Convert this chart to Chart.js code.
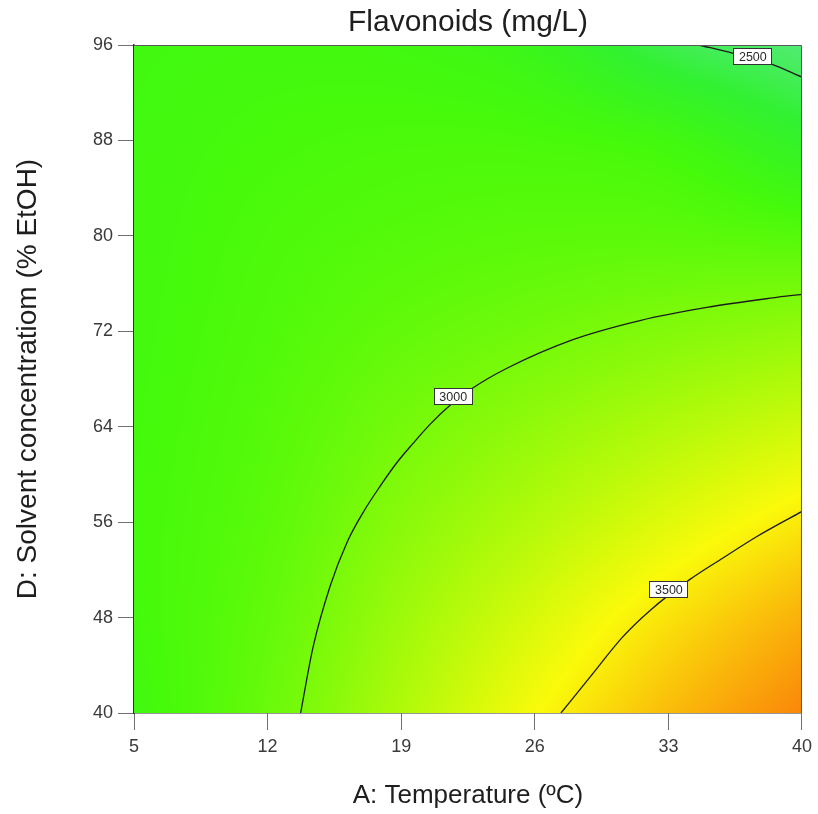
<!DOCTYPE html>
<html>
<head>
<meta charset="utf-8">
<style>
  html, body { margin: 0; padding: 0; background: #ffffff; }
  #wrap { width: 818px; height: 814px; }
</style>
<script src="https://cdn.jsdelivr.net/npm/chart.js@4/dist/chart.umd.min.js"></script>
</head>
<body>
<div id="wrap"><canvas id="c" width="818" height="814"></canvas></div>
<script>
// Axis ticks
const tempTicks = [5, 12, 19, 26, 33, 40];                  // A: Temperature (ºC)
const solventTicks = [40, 48, 56, 64, 72, 80, 88, 96];      // D: Solvent concentration (% EtOH)

// Predicted flavonoids (mg/L); one row per solvent level (40 → 96), one column per temperature
const flavonoidGrid = [
  [2780, 2940, 3190, 3450, 3680, 3870],  // 40
  [2800, 2915, 3125, 3335, 3540, 3720],  // 48
  [2805, 2890, 3050, 3205, 3365, 3520],  // 56
  [2800, 2870, 2980, 3085, 3195, 3300],  // 64
  [2795, 2850, 2915, 2970, 3030, 3085],  // 72
  [2790, 2835, 2865, 2885, 2890, 2865],  // 80
  [2785, 2815, 2830, 2825, 2780, 2645],  // 88
  [2780, 2790, 2780, 2720, 2530, 2420]   // 96
];

// Contour lines (temperature, solvent)
const contour2500 = [
  {x: 34.6, y: 96.0}, {x: 36.4, y: 95.3}, {x: 38.4, y: 94.4}, {x: 40.0, y: 93.3}
];
const contour3000 = [
  {x: 13.73, y: 40.0}, {x: 14.38, y: 45.5}, {x: 15.27, y: 50.6}, {x: 16.16, y: 54.3},
  {x: 17.00, y: 56.8}, {x: 17.89, y: 59.0}, {x: 18.78, y: 61.0}, {x: 19.62, y: 62.6},
  {x: 20.51, y: 64.2}, {x: 21.56, y: 65.8}, {x: 22.71, y: 67.2}, {x: 24.54, y: 68.9},
  {x: 28.00, y: 71.3}, {x: 31.51, y: 72.9}, {x: 35.02, y: 74.0}, {x: 38.48, y: 74.8},
  {x: 40.00, y: 75.1}
];
const contour3500 = [
  {x: 27.37, y: 40.0}, {x: 28.89, y: 43.0}, {x: 30.62, y: 46.4}, {x: 32.04, y: 48.6},
  {x: 34.13, y: 51.2}, {x: 35.86, y: 53.0}, {x: 37.64, y: 54.8}, {x: 40.00, y: 56.9}
];
const contourLabels = [
  {text: '2500', x: 37.4, y: 95.1},
  {text: '3000', x: 21.7, y: 66.6},
  {text: '3500', x: 33.0, y: 50.4}
];

const chartTitle = 'Flavonoids (mg/L)';
const FONT = "'Liberation Sans', Arial, Helvetica, sans-serif";

// Colour ramp: cyan-green (low) → green → yellow → orange (high)
function hslToRgb(h, s, l) {
  s /= 100; l /= 100;
  const k = n => (n + h / 30) % 12;
  const a = s * Math.min(l, 1 - l);
  const f = n => l - a * Math.max(-1, Math.min(k(n) - 3, Math.min(9 - k(n), 1)));
  return [Math.round(f(0) * 255), Math.round(f(8) * 255), Math.round(f(4) * 255)];
}
function rampColour(v) {
  let h = 120 - (v - 2600) * 0.07;
  h = Math.max(20, Math.min(140, h));
  const cool = Math.max(0, h - 105);
  const l = 51 + cool * 0.4;
  const s = 96 - cool * 0.6;
  return hslToRgb(h, s, l);
}

// Catmull-Rom sampling of the grid
function cr(p0, p1, p2, p3, t) {
  return 0.5 * ((2 * p1) + (-p0 + p2) * t + (2 * p0 - 5 * p1 + 4 * p2 - p3) * t * t +
    (-p0 + 3 * p1 - 3 * p2 + p3) * t * t * t);
}
function gridAt(r, c) {
  const rows = flavonoidGrid.length, cols = flavonoidGrid[0].length;
  if (r < 0) return 2 * gridAt(0, c) - gridAt(1, c);
  if (r >= rows) return 2 * gridAt(rows - 1, c) - gridAt(rows - 2, c);
  if (c < 0) return 2 * flavonoidGrid[r][0] - flavonoidGrid[r][1];
  if (c >= cols) return 2 * flavonoidGrid[r][cols - 1] - flavonoidGrid[r][cols - 2];
  return flavonoidGrid[r][c];
}
function sampleSurface(fx, fy) {
  const rows = flavonoidGrid.length, cols = flavonoidGrid[0].length;
  const c = Math.max(0, Math.min(cols - 2, Math.floor(fx)));
  const r = Math.max(0, Math.min(rows - 2, Math.floor(fy)));
  const tx = fx - c, ty = fy - r;
  const vals = [];
  for (let k = -1; k <= 2; k++) {
    vals.push(cr(gridAt(r + k, c - 1), gridAt(r + k, c), gridAt(r + k, c + 1), gridAt(r + k, c + 2), tx));
  }
  return cr(vals[0], vals[1], vals[2], vals[3], ty);
}

const surfacePlugin = {
  id: 'surface',
  beforeDatasetsDraw(chart) {
    const {ctx, chartArea: a, scales: {x, y}} = chart;
    const w = Math.round(a.right - a.left), h = Math.round(a.bottom - a.top);
    const off = document.createElement('canvas');
    off.width = w; off.height = h;
    const octx = off.getContext('2d');
    const img = octx.createImageData(w, h);
    const xStep = tempTicks[1] - tempTicks[0], yStep = solventTicks[1] - solventTicks[0];
    for (let j = 0; j < h; j++) {
      const yv = y.getValueForPixel(a.top + j + 0.5);
      const fy = (yv - solventTicks[0]) / yStep;
      for (let i = 0; i < w; i++) {
        const xv = x.getValueForPixel(a.left + i + 0.5);
        const fx = (xv - tempTicks[0]) / xStep;
        const [rr, gg, bb] = rampColour(sampleSurface(fx, fy));
        const p = (j * w + i) * 4;
        img.data[p] = rr; img.data[p + 1] = gg; img.data[p + 2] = bb; img.data[p + 3] = 255;
      }
    }
    octx.putImageData(img, 0, 0);
    ctx.save();
    ctx.drawImage(off, a.left, a.top);
    ctx.restore();
  },
  afterDatasetsDraw(chart) {
    const {ctx, chartArea: a, scales: {x, y}} = chart;
    ctx.save();
    // frame on the top and right
    ctx.strokeStyle = '#5a5a5a';
    ctx.lineWidth = 1;
    ctx.beginPath();
    ctx.moveTo(a.left, a.top + 0.5);
    ctx.lineTo(a.right - 0.5, a.top + 0.5);
    ctx.lineTo(a.right - 0.5, a.bottom);
    ctx.stroke();
    // contour value tags
    ctx.font = '12.5px ' + FONT;
    ctx.textAlign = 'center';
    ctx.textBaseline = 'middle';
    contourLabels.forEach(lb => {
      const px = x.getPixelForValue(lb.x), py = y.getPixelForValue(lb.y);
      const bw = 38, bh = 16;
      const bx = Math.round(px - bw / 2) + 0.5, by = Math.round(py - bh / 2) + 0.5;
      ctx.fillStyle = '#ffffff';
      ctx.fillRect(bx, by, bw, bh);
      ctx.strokeStyle = '#333333';
      ctx.strokeRect(bx, by, bw, bh);
      ctx.fillStyle = '#2a2a2a';
      ctx.fillText(lb.text, px + 0.5, py + 1.5);
    });
    // title centred over the plot
    ctx.font = '30px ' + FONT;
    ctx.fillStyle = '#1e1e1e';
    ctx.textAlign = 'center';
    ctx.textBaseline = 'middle';
    ctx.fillText(chartTitle, (a.left + a.right) / 2, 23);
    ctx.restore();
  }
};

function contourSet(pts) {
  return {
    data: pts, showLine: true, borderColor: '#1c1c1c', borderWidth: 1.3,
    pointRadius: 0, pointHoverRadius: 0, cubicInterpolationMode: 'monotone', fill: false
  };
}

new Chart(document.getElementById('c'), {
  type: 'scatter',
  data: {
    datasets: [contourSet(contour2500), contourSet(contour3000), contourSet(contour3500)]
  },
  options: {
    responsive: false,
    animation: false,
    events: [],
    layout: {padding: {left: 0, right: 16, top: 45, bottom: 0}},
    plugins: {
      legend: {display: false},
      tooltip: {enabled: false},
      title: {display: false}
    },
    scales: {
      x: {
        type: 'linear', min: tempTicks[0], max: tempTicks[tempTicks.length - 1],
        afterBuildTicks: s => { s.ticks = tempTicks.map(v => ({value: v})); },
        afterFit: s => { s.height = 101; },
        grid: {drawOnChartArea: false, tickLength: 17, color: '#707070', tickWidth: 1},
        border: {display: true, color: '#2e2e2e', width: 1.5},
        ticks: {color: '#3a3a3a', padding: 6, maxRotation: 0, font: {family: FONT, size: 18}},
        title: {
          display: true, text: 'A: Temperature (ºC)', color: '#1e1e1e',
          font: {family: FONT, size: 26, lineHeight: 1.2}, padding: {top: 0, bottom: 3}
        }
      },
      y: {
        type: 'linear', min: solventTicks[0], max: solventTicks[solventTicks.length - 1],
        afterBuildTicks: s => { s.ticks = solventTicks.map(v => ({value: v})); },
        afterFit: s => { s.width = 134; },
        grid: {drawOnChartArea: false, tickLength: 16, color: '#707070', tickWidth: 1},
        border: {display: true, color: '#2e2e2e', width: 1.5},
        ticks: {color: '#3a3a3a', padding: 5, font: {family: FONT, size: 18}},
        title: {
          display: true, text: 'D: Solvent concentratiom (% EtOH)', color: '#1e1e1e',
          font: {family: FONT, size: 28, lineHeight: 1.2}, padding: {top: 11, bottom: 0}
        }
      }
    }
  },
  plugins: [surfacePlugin]
});
</script>
</body>
</html>
